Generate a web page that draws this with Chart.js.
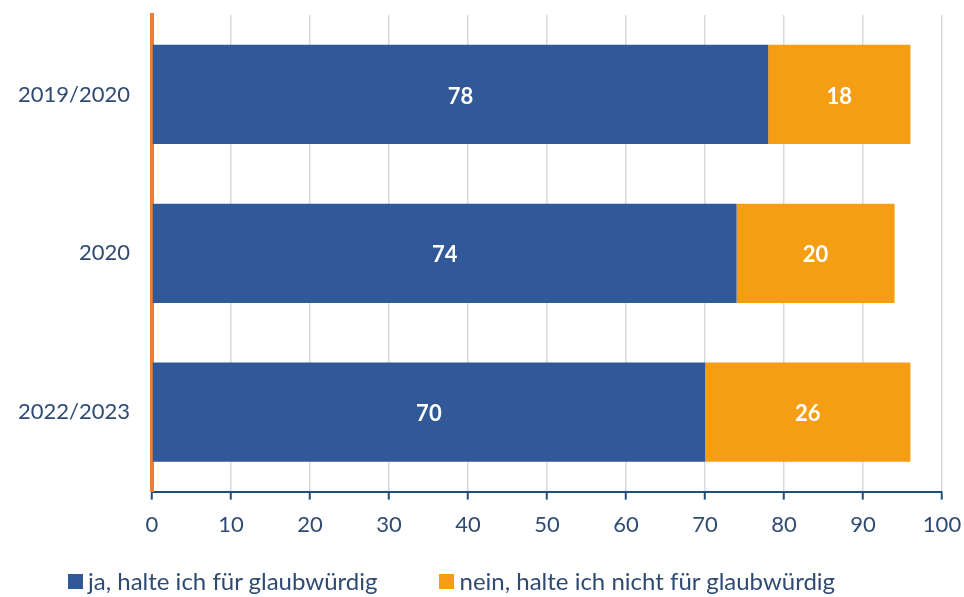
<!DOCTYPE html>
<html>
<head>
<meta charset="utf-8">
<script src="https://cdn.jsdelivr.net/npm/chart.js@4.4.0/dist/chart.umd.min.js"></script>
<style>
  body { margin: 0; background: #fff; }
  #wrap { position: relative; width: 964px; height: 597px; }
  #legend { position: absolute; left: 68px; top: 567px; display: flex; font-family: Lato, 'Open Sans', sans-serif; font-size: 24px; color: #2f4b73; line-height: 28px; }
  #legend span.item { display: flex; align-items: center; margin-right: 62px; }
  #legend i { display: inline-block; width: 15px; height: 15px; margin-right: 5px; }
</style>
</head>
<body>
<div id="wrap"><canvas id="umfrage"></canvas><div id="legend"></div></div>
<script>
const categories = ["2019/2020", "2020", "2022/2023"];
const jaValues = [78, 74, 70];
const neinValues = [18, 20, 26];
const seriesNames = ["ja, halte ich für glaubwürdig", "nein, halte ich nicht für glaubwürdig"];
const seriesColors = ["#315897", "#f59e14"];

const textColor = "#2f4b73";
const fontFamily = "Lato, 'Open Sans', sans-serif";

// white numbers inside the bar segments
const barLabels = {
  id: "barLabels",
  afterDatasetsDraw(chart) {
    const ctx = chart.ctx;
    ctx.save();
    ctx.fillStyle = "#fff";
    ctx.font = "bold 22px " + fontFamily;
    ctx.textAlign = "center";
    ctx.textBaseline = "middle";
    chart.data.datasets.forEach((ds, i) => {
      chart.getDatasetMeta(i).data.forEach((bar, j) => {
        const p = bar.getProps(["x", "y", "base"], true);
        ctx.fillText(ds.data[j], (p.x + p.base) / 2, p.y + 2);
      });
    });
    ctx.restore();
  }
};

const chart = new Chart(document.getElementById("umfrage"), {
  type: "bar",
  data: {
    labels: categories,
    datasets: [
      { label: seriesNames[0], data: jaValues, backgroundColor: seriesColors[0] },
      { label: seriesNames[1], data: neinValues, backgroundColor: seriesColors[1] }
    ]
  },
  options: {
    indexAxis: "y",
    responsive: true,
    maintainAspectRatio: false,
    animation: false,
    layout: { padding: { top: 15, left: 0, right: 22, bottom: 47 } },
    datasets: { bar: { barPercentage: 0.625, categoryPercentage: 1 } },
    scales: {
      x: {
        stacked: true,
        min: 0,
        max: 100,
        afterFit: s => { s.paddingLeft = 0; s.paddingRight = 0; },
        ticks: {
          stepSize: 5,
          color: textColor,
          padding: 12,
          maxRotation: 0,
          font: { family: fontFamily, size: 22 },
          callback: v => (v % 10 === 0 ? v : "")
        },
        grid: {
          color: c => (c.tick && c.tick.value % 10 === 0 && c.tick.value !== 0 ? "#d9d9d9" : "transparent"),
          lineWidth: 1.5,
          tickColor: "#1f4e79",
          tickLength: 8,
          tickWidth: 2
        },
        border: { color: "#1f4e79", width: 2 }
      },
      y: {
        stacked: true,
        afterFit: s => { s.width = 152; s.paddingTop = 0; s.paddingBottom = 0; },
        ticks: {
          color: textColor,
          padding: 22,
          font: { family: fontFamily, size: 22 }
        },
        grid: { display: false, drawTicks: false },
        border: { color: "#ed7d31", width: 4 }
      }
    },
    plugins: {
      legend: { display: false },
      tooltip: { enabled: false }
    }
  },
  plugins: [barLabels]
});

// legend built from the chart's datasets
const legendEl = document.getElementById("legend");
chart.data.datasets.forEach(ds => {
  const item = document.createElement("span");
  item.className = "item";
  const box = document.createElement("i");
  box.style.background = ds.backgroundColor;
  item.appendChild(box);
  item.appendChild(document.createTextNode(ds.label));
  legendEl.appendChild(item);
});
</script>
</body>
</html>
